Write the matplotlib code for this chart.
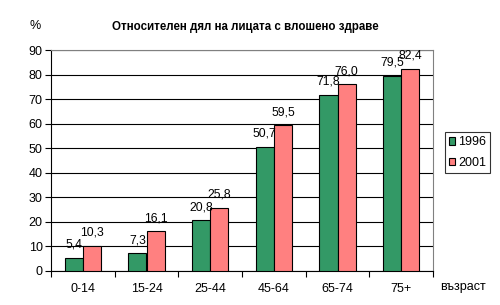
import numpy as np
import matplotlib.pyplot as plt

plt.rcParams['font.family'] = ['Liberation Sans', 'DejaVu Sans']

# Data
age_groups = ['0-14', '15-24', '25-44', '45-64', '65-74', '75+']
y1996 = [5.4, 7.3, 20.8, 50.7, 71.8, 79.5]
y2001 = [10.3, 16.1, 25.8, 59.5, 76.0, 82.4]

fig = plt.figure(figsize=(5, 3.05), dpi=100)
ax = fig.add_axes([0.102, 0.1115, 0.764, 0.7245])

x = np.arange(len(age_groups))
w = 1 / 3.5
b1 = ax.bar(x - w / 2, y1996, w, color='#339966', edgecolor='black', linewidth=0.8,
            label='1996', zorder=3)
b2 = ax.bar(x + w / 2, y2001, w, color='#FF8080', edgecolor='black', linewidth=0.8,
            label='2001', zorder=3)

for bars, vals in ((b1, y1996), (b2, y2001)):
    for r, v in zip(bars, vals):
        ax.text(r.get_x() + r.get_width() / 2, min(v + 2.8, 85.2),
                f'{v:.1f}'.replace('.', ','),
                ha='center', va='bottom', fontsize=8.7, zorder=4)

ax.set_xlim(-0.5, len(age_groups) - 0.5)
ax.set_ylim(0, 90)
ax.set_yticks(range(0, 91, 10))
ax.yaxis.grid(True, color='black', linewidth=0.8, zorder=0)
ax.set_xticks(x)
ax.set_xticklabels(age_groups)
ax.set_xticks(np.arange(-0.5, len(age_groups)), minor=True)
ax.tick_params(axis='x', which='major', length=0, pad=9, labelsize=9)
ax.tick_params(axis='x', which='minor', length=4, width=0.8, direction='out')
ax.tick_params(axis='y', length=4, width=0.8, direction='out', labelsize=9, pad=2)

for side in ('top', 'right'):
    ax.spines[side].set_color('#808080')
for side in ('left', 'bottom'):
    ax.spines[side].set_color('black')
for s in ax.spines.values():
    s.set_linewidth(0.8)

fig.text(0.49, 0.913, 'Относителен дял на лицата с влошено здраве', ha='center',
         va='center', fontsize=8.3, fontweight='bold')
fig.text(0.07, 0.916, '%', ha='center', va='center', fontsize=9)
fig.text(0.926, 0.06, 'възраст', ha='center', va='center', fontsize=9)

leg = ax.legend(loc='center left', bbox_to_anchor=(1.031, 0.536), fontsize=9,
                frameon=True, fancybox=False, edgecolor='black', handlelength=0.55,
                handleheight=0.55, handletextpad=0.2, borderpad=0.3, labelspacing=0.7,
                borderaxespad=0)
leg.get_frame().set_linewidth(0.8)

fig.savefig('out.png', dpi=100)
